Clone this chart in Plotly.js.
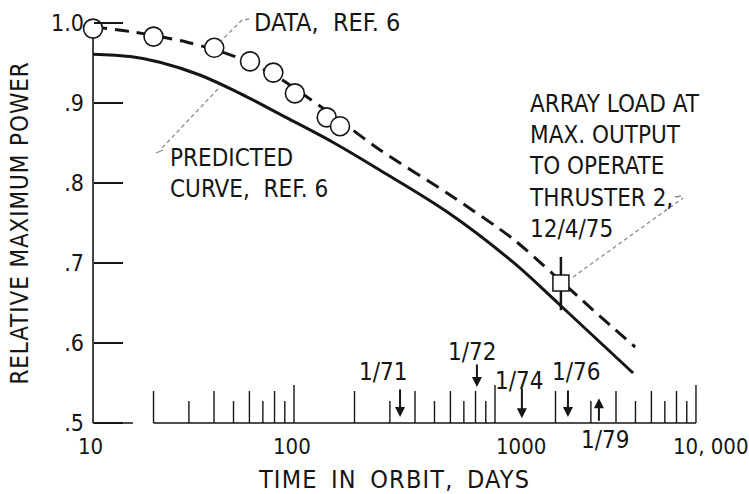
<!DOCTYPE html>
<html><head><meta charset="utf-8">
<script src="https://cdn.plot.ly/plotly-3.0.1.min.js"></script>
<style>
html,body{margin:0;padding:0;background:#fff;}
#chart{width:749px;height:494px;}
.xtitle{letter-spacing:1.2px;word-spacing:5px;}
.ytitle{letter-spacing:0.9px;}
</style>
</head><body><div id="chart"></div>
<script>
// ---- data ----
const dataDays  = [10, 20, 40.1, 60.4, 78.9, 101, 145.5, 169.4];
const dataPower = [0.993, 0.983, 0.969, 0.952, 0.938, 0.912, 0.882, 0.871];

const fitDays  = [10, 15.8, 29.4, 49.7, 78.6, 107, 146, 171, 268, 577, 1230, 1945, 3076, 4978];
const fitPower = [0.995, 0.9888, 0.976, 0.959, 0.936, 0.9137, 0.89, 0.8775, 0.8412, 0.7875, 0.73, 0.6862, 0.6412, 0.595];

const predDays  = [10, 15.3, 21.5, 34.0, 53.8, 88.1, 156, 268, 577, 1230, 2105, 4864];
const predPower = [0.961, 0.958, 0.951, 0.935, 0.912, 0.884, 0.851, 0.816, 0.764, 0.701, 0.6475, 0.5625];

const loadDay = [2128];
const loadPower = [0.675];
const loadBarLow = [0.641];
const loadBarHigh = [0.7075];

const dateLabels = ['1/71', '1/72', '1/74', '1/76', '1/79'];
const dateDays   = [337, 813, 1361, 2307, 3289];

const xTickVals = [10, 100, 1000, 10000];
const xTickText = ['10', '100', '1000', '10, 000'];
const yTickVals = [0.5, 0.6, 0.7, 0.8, 0.9, 1.0];
const yTickText = ['.5', '.6', '.7', '.8', '.9', '1.0'];

const decadeTicks = [100, 1000, 10000];
const evenTicks = [20, 40, 60, 80, 200, 400, 600, 800, 2000, 4000, 6000, 8000];
const oddTicks  = [30, 50, 70, 90, 300, 500, 700, 900, 3000, 5000, 7000, 9000];

// ---- styling ----
const FONT = '"Liberation Sans Narrow", "Arial Narrow", "DejaVu Sans Condensed", sans-serif';
const INK = '#151515';
const GRAY = '#8a8a8a';
const L = 89, R = 49, T = 15, B = 63, W = 749, H = 494;
const PW = W - L - R, PH = H - T - B;
const xp = px => (px - L) / PW;
const yp = py => (H - B - py) / PH;

// tick heights (data units) per tick class
const tickSets = [[decadeTicks, 0.0475], [evenTicks, 0.04], [oddTicks, 0.0275]];
const tx = [], ty = [];
tickSets.forEach(([vals, h]) => vals.forEach(v => { tx.push(v, v, null); ty.push(0.5, 0.5 + h, null); }));

const yMin = yTickVals[0], yMax = yTickVals[yTickVals.length - 1];
const xMin = xTickVals[0], xMax = xTickVals[xTickVals.length - 1];

const traces = [
  {x: [xMin, xMin], y: [yMin, yMax], mode: 'lines', line: {color: INK, width: 1.6}, hoverinfo: 'skip', showlegend: false},
  {x: [evenTicks[0], xMax], y: [yMin, yMin], mode: 'lines', line: {color: INK, width: 1.6}, hoverinfo: 'skip', showlegend: false},
  {x: [xMin, 15.8], y: [yMin, yMin], mode: 'lines', line: {color: INK, width: 1.6}, hoverinfo: 'skip', showlegend: false},
  {x: tx, y: ty, mode: 'lines', line: {color: INK, width: 1.4}, hoverinfo: 'skip', showlegend: false, connectgaps: false},
  {x: predDays, y: predPower, mode: 'lines', line: {color: INK, width: 3, shape: 'spline', smoothing: 1}, showlegend: false},
  {x: fitDays, y: fitPower, mode: 'lines', line: {color: INK, width: 3, dash: '14px,8px', shape: 'spline', smoothing: 0.8}, showlegend: false},
  {x: [loadDay[0], loadDay[0]], y: [loadBarLow[0], loadBarHigh[0]], mode: 'lines', line: {color: INK, width: 2.5}, showlegend: false},
  {x: loadDay, y: loadPower, mode: 'markers', marker: {symbol: 'square', size: 16, color: '#fff', line: {color: INK, width: 1.5}}, showlegend: false},
  {x: dataDays, y: dataPower, mode: 'markers', cliponaxis: false,
   marker: {symbol: 'circle', size: 19, color: '#fff', line: {color: INK, width: 1.6}}, showlegend: false}
];

// style arrays for date arrows
const arrowTipY = [0.5075, 0.545, 0.506, 0.5075, 0.531];
const arrowAy   = [-29, -24, -31, -28, 24];
const labelDx   = [-17, -5, -3, 8, 6];
const labelPy   = [372, 352, 381, 372, 440];

const ann = [];
const tf = (s) => ({family: FONT, size: s, color: INK});
dateDays.forEach((d, i) => {
  ann.push({x: Math.log10(d), y: arrowTipY[i], xref: 'x', yref: 'y', text: '', showarrow: true,
            ax: 0, ay: arrowAy[i], arrowhead: 2, arrowsize: 1, arrowwidth: 2, arrowcolor: INK, standoff: 0});
  ann.push({x: Math.log10(d), xref: 'x', xshift: labelDx[i], y: yp(labelPy[i]), yref: 'paper',
            text: dateLabels[i], showarrow: false, xanchor: 'center', yanchor: 'middle', font: tf(24)});
});
// x tick labels
const xLabPx = [90, 292, 521, 711];
xTickVals.forEach((v, i) => {
  ann.push({x: xp(xLabPx[i]), xref: 'paper', y: yp(446), yref: 'paper', text: xTickText[i],
            showarrow: false, xanchor: 'center', yanchor: 'middle', font: tf(22)});
});
// callout texts
ann.push({x: xp(252), y: yp(22.5), xref: 'paper', yref: 'paper', text: 'DATA,  REF. 6', showarrow: false,
          xanchor: 'left', yanchor: 'middle', font: tf(25)});
ann.push({x: xp(168), y: yp(173), xref: 'paper', yref: 'paper', text: 'PREDICTED<br>CURVE,  REF. 6', showarrow: false,
          xanchor: 'left', yanchor: 'middle', align: 'left', font: tf(24)});
ann.push({x: xp(527), y: yp(166), xref: 'paper', yref: 'paper',
          text: 'ARRAY LOAD AT<br>MAX. OUTPUT<br>TO OPERATE<br>THRUSTER 2,<br>12/4/75', showarrow: false,
          xanchor: 'left', yanchor: 'middle', align: 'left', font: tf(24)});

// leader lines (dashed, paper coords from pixel positions)
const path = pts => pts.map((p, i) => (i ? 'L' : 'M') + xp(p[0]).toFixed(4) + ',' + yp(p[1]).toFixed(4)).join(' ');
const leader = pts => ({type: 'path', xref: 'paper', yref: 'paper', path: path(pts), line: {color: GRAY, width: 1.3, dash: '4px,3px'}});
const shapes = [
  leader([[249, 19], [242, 20], [221, 41]]),
  leader([[218, 89], [162, 148]]),
  {type: 'path', xref: 'paper', yref: 'paper', path: path([[163, 150], [156, 153]]), line: {color: GRAY, width: 1.3}},
  leader([[573, 277], [683, 198]]),
  {type: 'path', xref: 'paper', yref: 'paper', path: path([[675, 197], [681, 196]]), line: {color: GRAY, width: 1.3}}
];

const layout = {
  width: W, height: H,
  margin: {l: L, r: R, t: T, b: B},
  paper_bgcolor: '#fff', plot_bgcolor: 'rgba(0,0,0,0)',
  showlegend: false,
  font: {family: FONT, size: 22, color: INK},
  xaxis: {type: 'log', range: [0.98, 4.02], showgrid: false, zeroline: false, showline: false,
          ticks: '', showticklabels: false,
          title: {text: 'TIME IN ORBIT, DAYS', font: {family: FONT, size: 25, color: INK}, standoff: 42}},
  yaxis: {range: [0.49, 1.01], showgrid: false, zeroline: false, showline: false,
          anchor: 'free', position: 4 / PW,
          tickvals: yTickVals, ticktext: yTickText, ticks: 'inside', ticklen: 29, tickwidth: 1.5, tickcolor: INK,
          ticklabelstandoff: 9,
          tickfont: {family: FONT, size: 23, color: INK},
          title: {text: 'RELATIVE MAXIMUM POWER', font: {family: FONT, size: 24, color: INK}, standoff: 14}},
  annotations: ann,
  shapes: shapes
};

Plotly.newPlot('chart', traces, layout, {displayModeBar: false, staticPlot: true});
</script>
</body></html>
